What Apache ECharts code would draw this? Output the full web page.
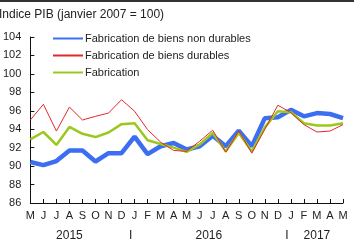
<!DOCTYPE html>
<html>
<head>
<meta charset="utf-8">
<script src="https://cdn.jsdelivr.net/npm/echarts@6/dist/echarts.min.js"></script>
<style>
  html, body { margin: 0; padding: 0; background: #fff; }
  #chart { width: 354px; height: 251px; }
</style>
</head>
<body>
<div id="chart"></div>
<script>
// mois de mai 2015 à mai 2017
const months = ['M', 'J', 'J', 'A', 'S', 'O', 'N', 'D', 'J', 'F', 'M', 'A', 'M',
  'J', 'J', 'A', 'S', 'O', 'N', 'D', 'J', 'F', 'M', 'A', 'M'];

const nonDurables = [90.45, 90.1, 90.55, 91.7, 91.7, 90.5, 91.4, 91.4, 93.2, 91.3, 92.15, 92.5, 91.8,
  92.15, 93.3, 92.15, 93.85, 92.15, 95.2, 95.3, 96.1, 95.4, 95.75, 95.65, 95.2];
const durables = [95.0, 96.7, 93.8, 96.4, 95.0, 95.4, 95.75, 97.2, 95.95, 93.95, 92.6, 91.7, 91.6,
  92.7, 93.9, 91.5, 93.8, 91.4, 94.0, 96.6, 95.8, 94.5, 93.7, 93.8, 94.5];
const fabrication = [92.9, 93.7, 92.3, 94.25, 93.5, 93.15, 93.65, 94.55, 94.65, 92.8, 92.4, 92.0, 91.55,
  92.35, 93.6, 91.6, 93.6, 91.6, 94.2, 95.95, 95.85, 94.65, 94.4, 94.4, 94.65];

// années sous l'axe (position en indice de mois)
const yearLabels = ['2015', 'I', '2016', 'I', '2017'];
const yearPos = [3, 7.7, 13.7, 19.7, 22];

const chart = echarts.init(document.getElementById('chart'));
const font = 'Liberation Sans, Arial, sans-serif';

chart.setOption({
  animation: false,
  textStyle: { fontFamily: font },
  title: {
    text: 'Indice PIB (janvier 2007 = 100)',
    left: -1, top: 9,
    padding: 0,
    textStyle: { fontSize: 12, fontWeight: 'normal', color: '#222', fontFamily: font }
  },
  legend: {
    orient: 'vertical',
    left: 52, top: 33,
    padding: 0,
    itemWidth: 30, itemHeight: 10, itemGap: 6,
    itemStyle: { opacity: 0 },
    textStyle: { fontSize: 11, color: '#222', padding: [0, 0, 0, -3] },
    data: ['Fabrication de biens non durables', 'Fabrication de biens durables', 'Fabrication']
  },
  grid: { left: 27, right: 11, top: 37, bottom: 48 },
  xAxis: {
    type: 'category',
    data: months,
    boundaryGap: false,
    axisLine: { lineStyle: { color: '#111', width: 1 } },
    axisTick: { inside: true, length: 4, lineStyle: { color: '#111' } },
    axisLabel: { interval: 0, fontSize: 11, color: '#222', margin: 7 }
  },
  yAxis: {
    type: 'value',
    min: 86, max: 104, interval: 2,
    axisLine: { show: true, lineStyle: { color: '#111', width: 1 } },
    axisTick: { show: true, inside: true, length: 4, lineStyle: { color: '#111' } },
    splitLine: { show: false },
    axisLabel: { fontSize: 11, color: '#222', margin: 9 }
  },
  series: [
    {
      name: 'Fabrication de biens non durables', type: 'line', data: nonDurables,
      symbol: 'none', z: 2,
      lineStyle: { color: '#3b6ef0', width: 4.5 }, itemStyle: { color: '#3b6ef0' }
    },
    {
      name: 'Fabrication de biens durables', type: 'line', data: durables,
      symbol: 'none', z: 4,
      lineStyle: { color: '#e5262b', width: 1 }, itemStyle: { color: '#e5262b' }
    },
    {
      name: 'Fabrication', type: 'line', data: fabrication,
      symbol: 'none', z: 3,
      lineStyle: { color: '#9cc81e', width: 2.5 }, itemStyle: { color: '#9cc81e' }
    }
  ]
});

// ligne en haut + libellés des années placés via l'échelle de l'axe
const x0 = chart.convertToPixel({ xAxisIndex: 0 }, 0);
const x1 = chart.convertToPixel({ xAxisIndex: 0 }, 1);
const step = x1 - x0;
const elements = [{
  type: 'rect', shape: { x: 0, y: 0, width: 354, height: 2 }, style: { fill: '#333' }
}];
yearLabels.forEach((t, i) => {
  elements.push({
    type: 'text',
    x: x0 + yearPos[i] * step, y: 236,
    style: { text: t, fontSize: 12, fontFamily: font, fill: '#222', align: 'center', verticalAlign: 'middle' }
  });
});
chart.setOption({ graphic: elements });
</script>
</body>
</html>
